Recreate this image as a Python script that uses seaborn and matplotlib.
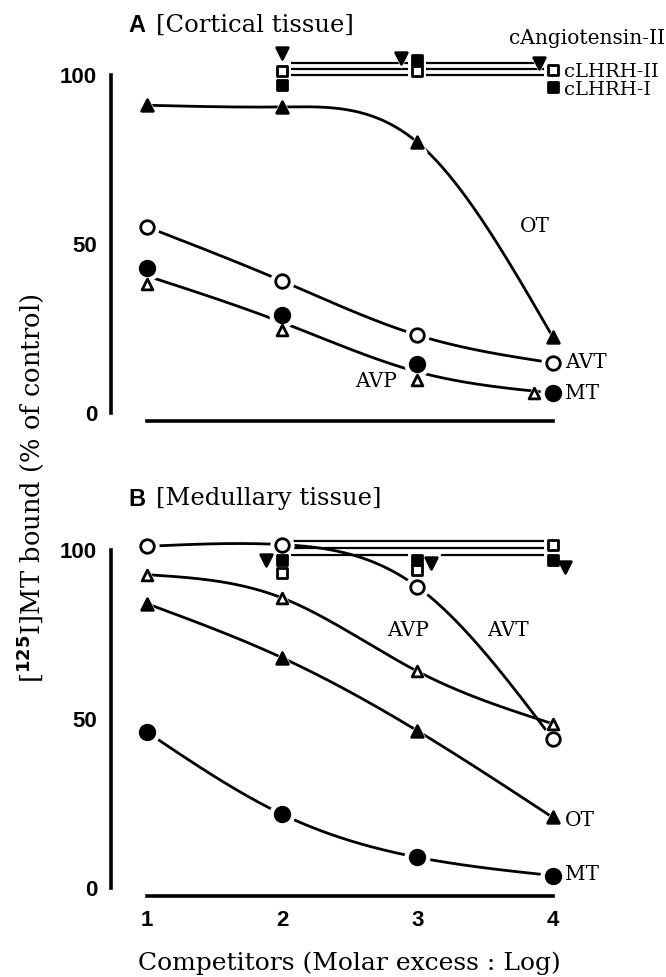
import numpy as np
import pandas as pd
import matplotlib
matplotlib.use("Agg")
import matplotlib.pyplot as plt
import seaborn as sns

# ---------------- data ----------------
X = [1, 2, 3, 4]
XC = [2, 3, 4]                      # competitors tested at these doses

# Panel A : cortical tissue
A_MT = [43, 29, 14.5, 6]
A_AVT = [55, 39, 23, 14.8]
A_AVP = [38, 24.5, 9.8, 5.8]
A_OT = [91, 90.5, 80, 22.5]
A_ANG = [106.5, 105, 103.5]         # cAngiotensin-II
A_LH2 = [101, 101, 101.5]           # cLHRH-II
A_LH1 = [97, 104.5, 96.5]           # cLHRH-I
A_LEVELS = [103.5, 101.8, 100]      # fitted lines of the three competitors

# Panel B : medullary tissue
B_MT = [46, 21.7, 9, 3.6]
B_AVT = [101, 101.5, 89, 44]
B_AVP = [92.6, 85.7, 64, 48.5]
B_OT = [84, 68, 46.4, 20.8]
B_ANG = [97, 96, 95]
B_LH2 = [93, 94, 101.5]
B_LH1 = [97, 97, 97]
B_LEVELS = [102.5, 100.5, 98.3]

Y_TICKS = [0, 50, 100]
X_TICK_LABELS = ["1", "2", "3", "4"]
COMP_NAMES = ["cAngiotensin-II", "cLHRH-II", "cLHRH-I"]

# small horizontal dodges so overlapping symbols stay visible
A_ANG_DODGE = [0, -0.12, -0.10]
B_ANG_DODGE = [-0.12, 0.10, 0.09]
A_AVP_DODGE = [0, 0, 0, -0.14]
NO_DODGE = [0, 0, 0, 0]

# ---------------- style ----------------
sns.set_theme(style="white")
SERIF = ["DejaVu Serif", "Liberation Serif"]
plt.rcParams["font.family"] = SERIF
for k in ("text.color", "axes.labelcolor", "xtick.color", "ytick.color"):
    plt.rcParams[k] = "black"
TICKFONT = ["Liberation Sans Narrow", "Liberation Sans", "DejaVu Sans"]

fig = plt.figure(figsize=(6.66, 9.77), dpi=100)
axA = fig.add_axes([0.1667, 0.567, 0.724, 0.391])
axB = fig.add_axes([0.1667, 0.081, 0.724, 0.391])

MARK = {
    "MT": dict(marker="o", s=110, fc="black"),
    "AVT": dict(marker="o", s=95, fc="white"),
    "AVP": dict(marker="^", s=60, fc="white"),
    "OT": dict(marker="^", s=70, fc="black"),
    "ANG": dict(marker="v", s=70, fc="black"),
    "LH2": dict(marker="s", s=55, fc="white"),
    "LH1": dict(marker="s", s=55, fc="black"),
}


def natural_spline(xs, ys, n=200):
    """Natural cubic spline through the points (drawing aid for fitted curves)."""
    xs = np.asarray(xs, float)
    ys = np.asarray(ys, float)
    k = len(xs)
    h = np.diff(xs)
    A = np.zeros((k, k))
    r = np.zeros(k)
    A[0, 0] = A[-1, -1] = 1.0
    for i in range(1, k - 1):
        A[i, i - 1] = h[i - 1]
        A[i, i] = 2 * (h[i - 1] + h[i])
        A[i, i + 1] = h[i]
        r[i] = 6 * ((ys[i + 1] - ys[i]) / h[i] - (ys[i] - ys[i - 1]) / h[i - 1])
    M = np.linalg.solve(A, r)
    xd = np.linspace(xs[0], xs[-1], n)
    idx = np.clip(np.searchsorted(xs, xd) - 1, 0, k - 2)
    x0, x1 = xs[idx], xs[idx + 1]
    hh = x1 - x0
    yd = (M[idx] * (x1 - xd) ** 3 / (6 * hh) + M[idx + 1] * (xd - x0) ** 3 / (6 * hh)
          + (ys[idx] / hh - M[idx] * hh / 6) * (x1 - xd)
          + (ys[idx + 1] / hh - M[idx + 1] * hh / 6) * (xd - x0))
    return xd, yd


def points(ax, xs, ys, key):
    m = MARK[key]
    df = pd.DataFrame({"x": xs, "y": ys})
    # white halo that opens a gap in the lines around each symbol
    sns.scatterplot(data=df, x="x", y="y", ax=ax, marker=m["marker"],
                    s=m["s"] * 3.2, color="white", edgecolor="white",
                    linewidth=0, zorder=3, legend=False, clip_on=False)
    sns.scatterplot(data=df, x="x", y="y", ax=ax, marker=m["marker"],
                    s=m["s"], color=m["fc"], edgecolor="black",
                    linewidth=2.0, zorder=4, legend=False, clip_on=False)


def curve(ax, ys):
    xd, yd = natural_spline(X, ys)
    sns.lineplot(x=xd, y=yd, ax=ax, color="black", lw=2.0, zorder=2,
                 legend=False)


def panel(ax, curves, mt, avt, avp, ot, ang, lh2, lh1, levels, dodge, avp_dodge):
    for ys in curves:
        curve(ax, ys)
    for lev in levels:
        sns.lineplot(x=[XC[0], XC[-1]], y=[lev, lev], ax=ax, color="black",
                     lw=1.6, zorder=2, legend=False)
    points(ax, X, mt, "MT")
    points(ax, X, avt, "AVT")
    points(ax, [x + d for x, d in zip(X, avp_dodge)], avp, "AVP")
    points(ax, X, ot, "OT")
    points(ax, [x + d for x, d in zip(XC, dodge)], ang, "ANG")
    points(ax, XC, lh2, "LH2")
    points(ax, XC, lh1, "LH1")

    ax.set_xlim(0.733, 4.3)
    ax.set_ylim(-3, 110)
    for s in ("top", "right"):
        ax.spines[s].set_visible(False)
    ax.spines["left"].set_bounds(0, 100)
    ax.spines["bottom"].set_bounds(1, 4)
    ax.spines["bottom"].set_position(("data", -2.5))
    for s in ("left", "bottom"):
        ax.spines[s].set_linewidth(2.6)
        ax.spines[s].set_color("black")
    ax.set_yticks(Y_TICKS)
    ax.set_yticklabels([str(t) for t in Y_TICKS], family=TICKFONT,
                       fontweight="bold", fontsize=16, color="black")
    ax.set_xticks(X)
    ax.tick_params(axis="both", direction="in", length=7, width=2,
                   color="black", labelcolor="black", pad=10)
    ax.set_xlabel("")
    ax.set_ylabel("")
    ax.grid(False)


# in panel A the MT and AVP data share one fitted curve
A_MT_AVP = [(a + b) / 2 for a, b in zip(A_MT, A_AVP)]
panel(axA, [A_AVT, A_OT, A_MT_AVP], A_MT, A_AVT, A_AVP, A_OT,
      A_ANG, A_LH2, A_LH1, A_LEVELS, A_ANG_DODGE, A_AVP_DODGE)
panel(axB, [B_MT, B_AVT, B_AVP, B_OT], B_MT, B_AVT, B_AVP, B_OT,
      B_ANG, B_LH2, B_LH1, B_LEVELS, B_ANG_DODGE, NO_DODGE)

axA.set_xticklabels([])
axB.set_xticklabels(X_TICK_LABELS, family=TICKFONT, fontweight="bold",
                    fontsize=16, color="black")

# curve labels
lab = dict(fontsize=14.5, color="black")
axA.text(3.87, 55, "OT", ha="center", va="center", **lab)
axA.text(4.09, 14.8, "AVT", ha="left", va="center", **lab)
axA.text(4.09, 5.8, "MT", ha="left", va="center", **lab)
axA.text(2.69, 9.2, "AVP", ha="center", va="center", **lab)
axB.text(2.93, 76, "AVP", ha="center", va="center", **lab)
axB.text(3.67, 76, "AVT", ha="center", va="center", **lab)
axB.text(4.09, 19.8, "OT", ha="left", va="center", **lab)
axB.text(4.09, 3.9, "MT", ha="left", va="center", **lab)

# competitor names (top right)
W, H = 666.0, 977.0
fig.text(665 / W, 1 - 38 / H, COMP_NAMES[0], ha="right", va="center", fontsize=14.5)
fig.text(564 / W, 1 - 72 / H, COMP_NAMES[1], ha="left", va="center", fontsize=14)
fig.text(564 / W, 1 - 90 / H, COMP_NAMES[2], ha="left", va="center", fontsize=14)

# panel titles
for ttl, sub, ypx in (("A", "[Cortical tissue]", 25), ("B", "[Medullary tissue]", 499)):
    fig.text(128 / W, 1 - ypx / H, ttl, ha="left", va="center", fontsize=17,
             fontweight="bold", family=["Liberation Sans", "DejaVu Sans"])
    fig.text(156 / W, 1 - ypx / H, sub, ha="left", va="center", fontsize=17.5)

fig.text(30 / W, 0.5, r"[$^{\mathbf{125}}$I]MT bound (% of control)", rotation=90,
         ha="center", va="center", fontsize=18.5)
fig.text((147 + 552) / 2 / W, 1 - 963 / H, "Competitors (Molar excess : Log)",
         ha="center", va="center", fontsize=18)

fig.savefig("out.png", dpi=100)
